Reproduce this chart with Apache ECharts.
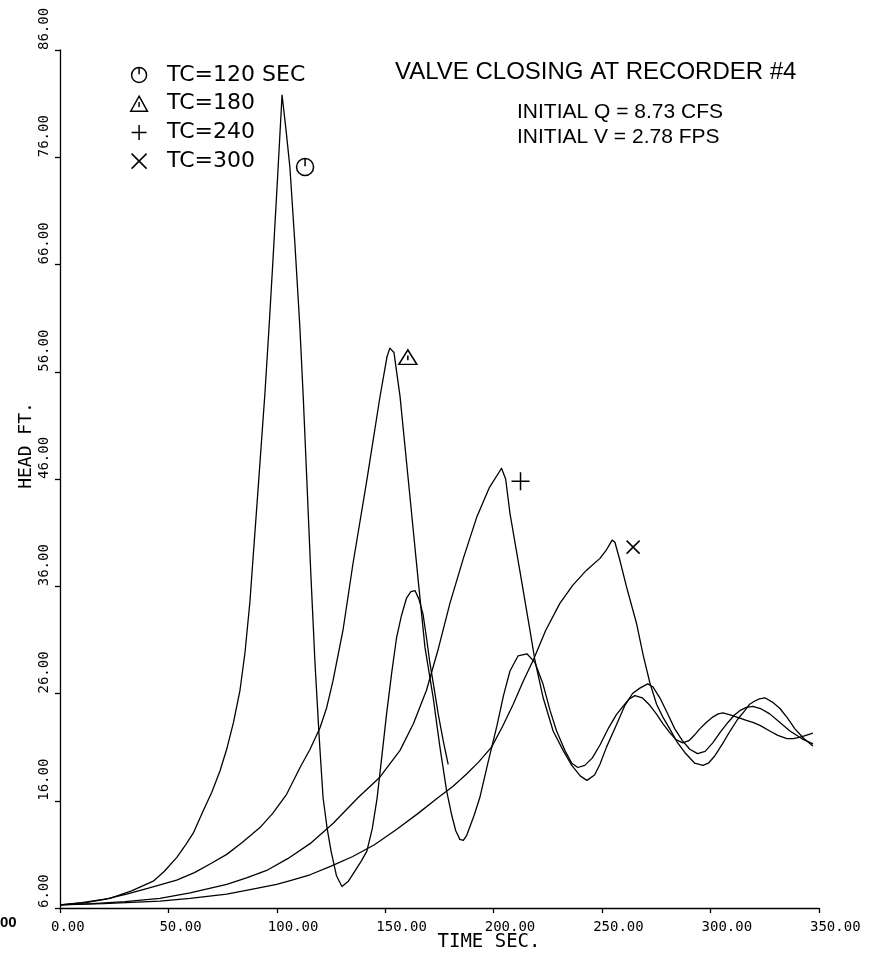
<!DOCTYPE html>
<html><head><meta charset="utf-8">
<script src="https://cdn.jsdelivr.net/npm/echarts@6/dist/echarts.min.js"></script>
<style>html,body{margin:0;padding:0;background:#fff}#c{width:886px;height:960px}</style>
</head><body><div id="c"></div>
<script>
// ---- Data (time in seconds, head in feet) ----
const seriesNames = ['TC=120 SEC', 'TC=180', 'TC=240', 'TC=300'];
const xTickLabels = ['0.00','50.00','100.00','150.00','200.00','250.00','300.00','350.00'];
const yTickLabels = ['6.00','16.00','26.00','36.00','46.00','56.00','66.00','76.00','86.00'];

const t120 = [0,10,23,33,43,48,53.8,58,61.5,66.1,70,73.8,77,80,83,85.3,87.6,88.8,91.5,94.5,96.5,98.2,100.3,102.4,104.2,106,108.3,110.6,112.2,113.8,115.7,117.6,119.5,121.3,123.2,125,127.5,130,133,136.5,139,141.5,144,146.2,148.5,150.6,153,155.2,157.5,159.8,161.8,163.7,165.5,167.4,169,170.6,172.5,174.4,176.7,179];
const h120 = [6.3,6.5,6.9,7.6,8.5,9.4,10.7,11.9,13.0,15.1,16.8,18.8,20.9,23.3,26.3,29.8,34.6,38.0,45.5,54.0,60.5,66.4,74.0,81.8,78.6,75.1,68.0,60.2,53.5,46.0,37.0,28.8,22.0,16.3,13.4,11.3,9.0,8.0,8.5,9.6,10.4,11.3,13.4,16.2,20.3,24.1,28.0,31.2,33.3,34.9,35.5,35.6,34.8,33.4,31.2,28.8,26.5,24.1,21.6,19.4];

const t180 = [0,12,20.5,30.7,40,53.8,62,69.2,76.9,84,92.2,98,104.5,110.7,115.3,119.9,123,125.9,130.5,135.1,141.5,147.5,150.8,152.1,154,156.8,161.4,165.2,168.3,172.1,175.2,178.3,180.7,182.5,184.4,186,187.6,190.9,193.6,197.3,201.5,204.5,207.5,211.2,215.3,219,222.7,226,229,232.8,236,238.8,242,245.5,249,253,256.5,259.6,262.5,265.1,268.5,272,275,278,281,284,287.2,290,292.5,295,298,301,303.5,305.7,309,313.5,316.5,319.5,323,327.3,331,335.2,338,341,344,347.2];
const h180 = [6.3,6.5,6.8,7.3,7.8,8.6,9.3,10.1,11.0,12.1,13.5,14.8,16.6,19.1,20.8,22.8,24.7,27.2,31.9,38.1,45.9,53.6,57.4,58.2,57.8,53.7,44.3,36.5,30.3,25.6,21.0,16.9,14.6,13.2,12.4,12.3,12.8,14.6,16.3,19.5,23.0,25.8,28.1,29.5,29.7,28.9,26.9,24.4,22.5,20.7,19.5,19.1,19.3,20.0,21.2,22.8,24.0,24.8,25.5,25.8,25.6,24.9,24.1,23.2,22.4,21.7,21.4,21.6,22.1,22.7,23.3,23.8,24.1,24.2,24.0,23.7,23.5,23.3,23.0,22.5,22.1,21.8,21.8,21.9,22.1,22.3];

const t240 = [0,15,30,46.1,60,76.9,86,95.3,105,115.3,126,137.5,147.5,156.8,163,169,174.5,179.8,186,192.1,198,203.6,205.5,207.5,212,216.7,219,222.8,227.4,232,236,240,243,246.5,249,252,256,260.5,264,267.4,271,273.5,276.6,280,283.5,287,290.4,294,297.5,301,304.5,308,311,313.5,316.5,319.5,323,327.3,332,336.6,342,347.2];
const h240 = [6.3,6.4,6.6,6.9,7.4,8.2,8.8,9.5,10.6,12.0,13.9,16.3,18.2,20.7,23.2,26.3,30.2,34.4,38.6,42.4,45.2,47.0,46.0,42.8,37.5,31.9,29.1,25.6,22.5,20.7,19.3,18.3,17.9,18.4,19.4,21.0,22.8,24.9,26.0,26.5,26.9,26.6,25.6,24.2,22.7,21.6,20.8,20.4,20.6,21.4,22.4,23.3,24.0,24.4,24.7,24.8,24.6,24.1,23.3,22.5,21.8,21.3];

const t300 = [0,20,46.1,60,76.9,90,99.9,107,115.3,125,135,145,155,165,174.4,181,187.5,193,199,204,209,213.5,218.2,224,230.5,236.5,242.8,249,252,254.6,255.9,258.2,261.3,265.9,269,272,275.1,278,281.2,284.5,288.1,292.7,296.5,299,302,305.5,309,312.5,315.8,318,320.4,322.5,325,328.5,332,335.5,338.9,343,347.2];
const h300 = [6.3,6.4,6.65,6.9,7.3,7.8,8.2,8.6,9.1,9.9,10.8,11.9,13.3,14.8,16.3,17.3,18.5,19.6,21.0,22.9,25.0,27.1,29.1,31.9,34.4,36.1,37.5,38.6,39.4,40.3,40.1,38.4,35.9,32.5,29.5,27.0,25.0,23.8,22.7,21.5,20.5,19.5,19.3,19.5,20.2,21.3,22.5,23.6,24.4,25.0,25.3,25.5,25.6,25.2,24.6,23.7,22.7,21.8,21.1];

// ---- Symbols ----
const ICON_CLOCK = 'path://M2 12 A10 10 0 1 1 22 12 A10 10 0 1 1 2 12 Z M12 2 L12 11';
const ICON_TRI = 'path://M12 2 L22 20 L2 20 Z M12 9 L12 15';
const ICON_PLUS = 'path://M0 10 L20 10 M10 0 L10 20';
const ICON_CROSS = 'path://M0 0 L20 20 M20 0 L0 20';
const icons = [ICON_CLOCK, ICON_TRI, ICON_PLUS, ICON_CROSS];
const markSizes = [[17,17],[18,16],[18,18],[13,13]];
const markOffsets = [[23,72],[18,9],[19,13],[21,7]];

const zip = (t, h) => t.map((v, i) => [v, h[i]]);
const allData = [zip(t120,h120), zip(t180,h180), zip(t240,h240), zip(t300,h300)];

const MONO = '"DejaVu Sans Mono", monospace';
const chart = echarts.init(document.getElementById('c'), null, {renderer: 'canvas'});

const series = seriesNames.map((name, i) => ({
  name, type: 'line', data: allData[i],
  symbol: 'none', showSymbol: false, animation: false,
  lineStyle: {color: '#000', width: 1.3, join: 'round'},
  itemStyle: {color: '#000'},
  markPoint: {
    symbol: icons[i], symbolSize: markSizes[i], symbolOffset: markOffsets[i],
    symbolKeepAspect: true, silent: true, animation: false,
    itemStyle: {color: 'rgba(0,0,0,0)', borderColor: '#000', borderWidth: 1.5},
    label: {show: false},
    data: [{type: 'max'}]
  }
}));

chart.setOption({
  backgroundColor: '#fff',
  animation: false,
  grid: {left: 60, right: 67, top: 50, bottom: 52, outerBoundsMode: 'none'},
  xAxis: {
    type: 'value', min: 0, max: 350, interval: 50,
    axisLine: {lineStyle: {color: '#000', width: 1.3}},
    axisTick: {length: 5, lineStyle: {color: '#000', width: 1.3}},
    splitLine: {show: false},
    axisLabel: {
      formatter: v => xTickLabels[Math.round(v / 50)],
      fontFamily: MONO, fontSize: 14, color: '#000',
      align: 'left', padding: [0, 0, 0, -9], margin: 12
    },
    name: 'TIME SEC.', nameLocation: 'middle', nameGap: 25, nameMoveOverlap: false,
    nameTextStyle: {fontFamily: MONO, fontSize: 19, color: '#000', padding: [0, 0, 0, 99]}
  },
  yAxis: {
    type: 'value', min: 6, max: 86, interval: 10,
    axisLine: {show: true, lineStyle: {color: '#000', width: 1.3}},
    axisTick: {show: true, length: 5, lineStyle: {color: '#000', width: 1.3}},
    splitLine: {show: false},
    axisLabel: {
      formatter: v => yTickLabels[Math.round((v - 6) / 10)],
      fontFamily: MONO, fontSize: 14, color: '#000',
      rotate: 90, align: 'left', verticalAlign: 'bottom', margin: 9
    },
    name: 'HEAD FT.', nameLocation: 'middle', nameRotate: 90, nameGap: 25, nameMoveOverlap: false,
    nameTextStyle: {fontFamily: MONO, fontSize: 18, color: '#000', padding: [0, 0, 0, 67]}
  },
  legend: {
    orient: 'vertical', left: 125, top: 59,
    itemWidth: 46, itemHeight: 15, itemGap: 6.7,
    symbolKeepAspect: true, selectedMode: false,
    itemStyle: {color: 'rgba(0,0,0,0)', borderColor: '#000', borderWidth: 1.5},
    textStyle: {fontFamily: '"DejaVu Sans", sans-serif', fontSize: 22, lineHeight: 20, color: '#000'},
    data: seriesNames.map((n, i) => ({name: n, icon: icons[i]}))
  },
  graphic: [
    {type: 'text', x: 395, y: 72, silent: true,
     style: {text: 'VALVE CLOSING AT RECORDER #4', fontFamily: '"Liberation Sans", Arial, sans-serif', fontSize: 24, fill: '#000', verticalAlign: 'middle'}},
    {type: 'text', x: 517, y: 112, silent: true,
     style: {text: 'INITIAL Q = 8.73 CFS', fontFamily: '"Liberation Sans", Arial, sans-serif', fontSize: 21, fill: '#000', verticalAlign: 'middle'}},
    {type: 'text', x: 517, y: 137, silent: true,
     style: {text: 'INITIAL V = 2.78 FPS', fontFamily: '"Liberation Sans", Arial, sans-serif', fontSize: 21, fill: '#000', verticalAlign: 'middle'}},
    {type: 'text', x: 0, y: 923, silent: true,
     style: {text: '00', fontFamily: '"Liberation Sans", Arial, sans-serif', fontSize: 15, fontWeight: 'bold', fill: '#000', verticalAlign: 'middle'}}
  ],
  series
});
</script></body></html>
